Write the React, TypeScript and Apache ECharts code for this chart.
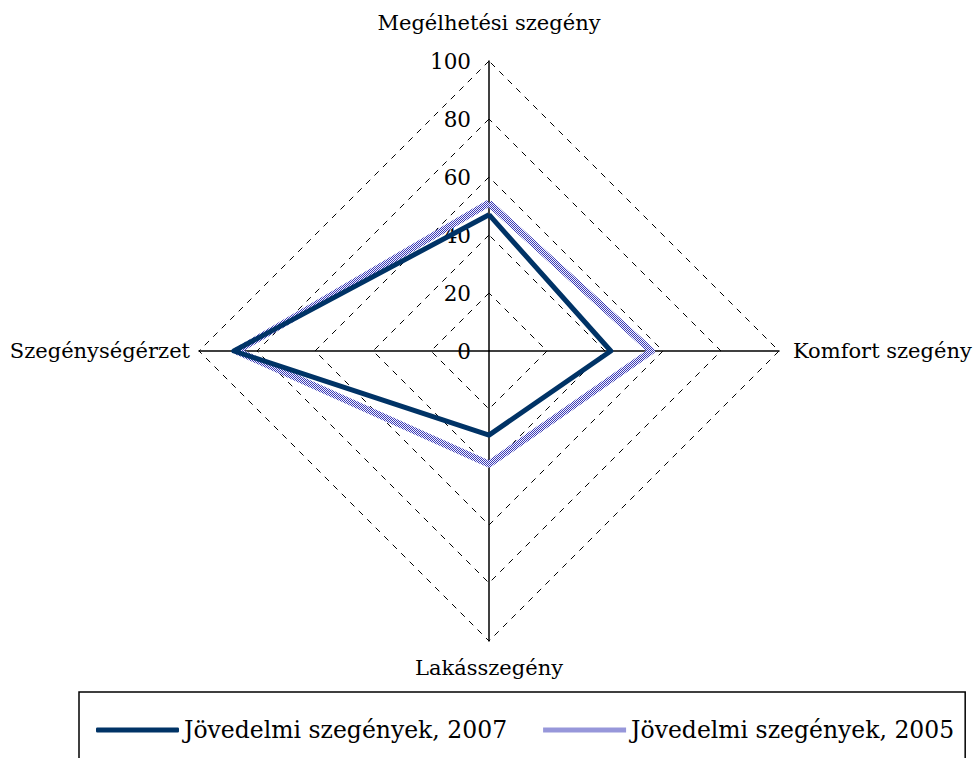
import React, { useEffect, useRef } from 'react';
import * as echarts from 'echarts';

const indicatorNames = ['Megélhetési szegény', 'Szegénységérzet', 'Lakásszegény', 'Komfort szegény'];
const seriesNames = ['Jövedelmi szegények, 2007', 'Jövedelmi szegények, 2005'];
const values2007 = [47, 88, 29, 42];
const values2005 = [51, 87, 39, 56];
const axisMax = 100;
const splitCount = 5;
const nameGaps = [28, 9, 16, 14];

const FONT = '"DejaVu Serif", serif';

function makePattern() {
  const c = document.createElement('canvas');
  c.width = 2;
  c.height = 2;
  const ctx = c.getContext('2d')!;
  ctx.fillStyle = '#f2f2ff';
  ctx.fillRect(0, 0, 2, 2);
  ctx.fillStyle = '#3c3cb4';
  ctx.fillRect(0, 0, 1, 1);
  ctx.fillRect(1, 1, 1, 1);
  return { image: c, repeat: 'repeat' } as any;
}

export default function App() {
  const ref = useRef<HTMLDivElement>(null);
  useEffect(() => {
    if (!ref.current) return;
    const chart = echarts.init(ref.current, null, { renderer: 'svg' });
    const pattern = makePattern();
    const dark = '#003366';
    chart.setOption({
      animation: false,
      backgroundColor: '#ffffff',
      radar: {
        center: [489, 351],
        radius: 290,
        startAngle: 90,
        shape: 'polygon',
        splitNumber: splitCount,
        axisName: { color: '#000', fontFamily: FONT, fontSize: 21 },
        axisLine: { show: true, lineStyle: { color: '#000', width: 1.5 } },
        axisTick: { show: false },
        axisLabel: { show: false, color: '#000', fontFamily: FONT, fontSize: 21.5, margin: 18 },
        splitLine: { show: true, lineStyle: { color: '#000', width: 1, type: [6, 6] } },
        splitArea: { show: false },
        indicator: indicatorNames.map((n, i) => ({
          name: n,
          min: 0,
          max: axisMax,
          nameGap: nameGaps[i],
          ...(i === 0 ? { axisLabel: { show: true } } : {}),
        })),
      },
      legend: {
        left: 79,
        top: 692,
        orient: 'horizontal',
        padding: [26, 11, 60, 17],
        borderColor: '#000',
        borderWidth: 1.5,
        itemGap: 36,
        itemWidth: 83,
        itemHeight: 5,
        textStyle: { color: '#000', fontFamily: FONT, fontSize: 23.5 },
        data: [
          { name: seriesNames[0], icon: 'roundRect', itemStyle: { color: dark } },
          { name: seriesNames[1], icon: 'rect', itemStyle: { color: pattern } },
        ],
      },
      series: [
        {
          type: 'radar',
          symbol: 'none',
          z: 3,
          data: [
            {
              name: seriesNames[1],
              value: values2005,
              lineStyle: { color: pattern, width: 7 },
              itemStyle: { color: pattern },
            },
            {
              name: seriesNames[0],
              value: values2007,
              lineStyle: { color: dark, width: 5 },
              itemStyle: { color: dark },
            },
          ],
        },
      ],
    });
    return () => chart.dispose();
  }, []);
  return (
    <div
      ref={ref}
      style={{ position: 'fixed', left: 0, top: 0, width: 974, height: 758, background: '#fff' }}
    />
  );
}
